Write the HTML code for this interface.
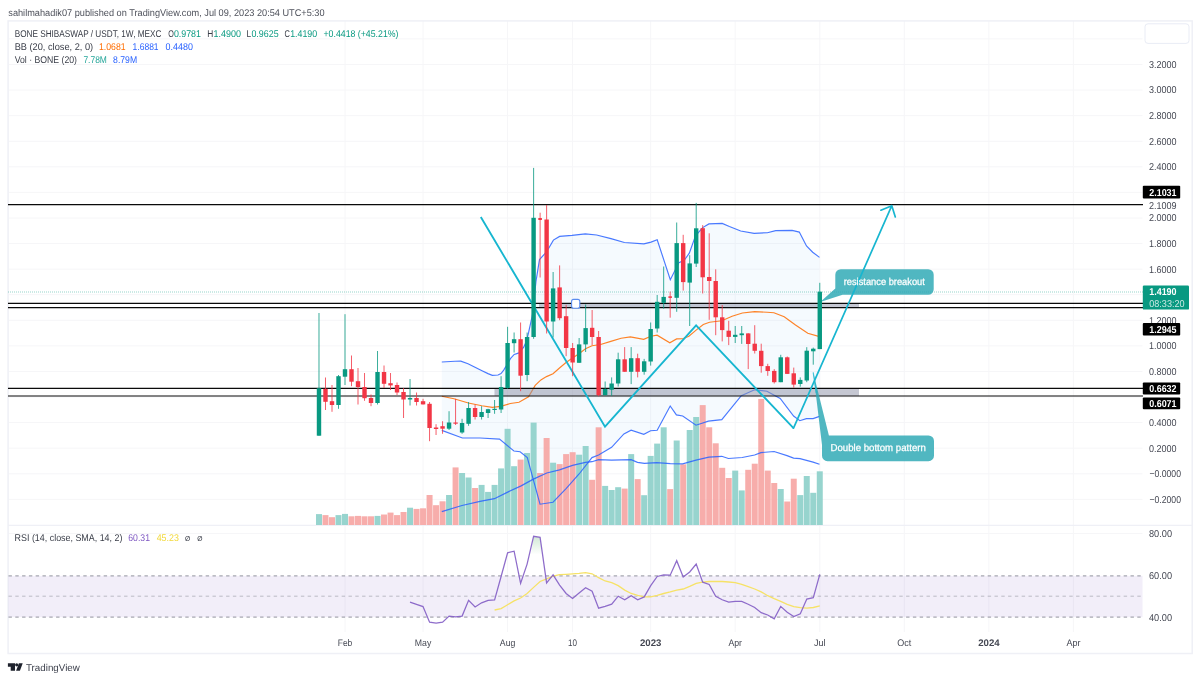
<!DOCTYPE html>
<html lang="en"><head><meta charset="utf-8"><title>BONE SHIBASWAP / USDT chart</title><style>html,body{margin:0;padding:0;background:#fff}body{width:1200px;height:681px;overflow:hidden}svg{display:block}</style></head><body>
<svg width="1200" height="681" viewBox="0 0 1200 681" font-family="'Liberation Sans', sans-serif" text-rendering="geometricPrecision">
<rect width="1200" height="681" fill="#fff"/>
<g stroke="#f6f6f8" stroke-width="1" fill="none"><path d="M8.5 38.9H1142.5"/><path d="M8.5 64.5H1142.5"/><path d="M8.5 90.1H1142.5"/><path d="M8.5 115.7H1142.5"/><path d="M8.5 141.3H1142.5"/><path d="M8.5 166.8H1142.5"/><path d="M8.5 192.4H1142.5"/><path d="M8.5 218.0H1142.5"/><path d="M8.5 243.6H1142.5"/><path d="M8.5 269.2H1142.5"/><path d="M8.5 294.7H1142.5"/><path d="M8.5 320.3H1142.5"/><path d="M8.5 345.9H1142.5"/><path d="M8.5 371.5H1142.5"/><path d="M8.5 397.1H1142.5"/><path d="M8.5 422.6H1142.5"/><path d="M8.5 448.2H1142.5"/><path d="M8.5 473.8H1142.5"/><path d="M8.5 499.4H1142.5"/><path d="M345.0 21V632"/><path d="M423.0 21V632"/><path d="M507.6 21V632"/><path d="M572.6 21V632"/><path d="M650.7 21V632"/><path d="M735.2 21V632"/><path d="M819.8 21V632"/><path d="M904.3 21V632"/><path d="M988.9 21V632"/><path d="M1073.4 21V632"/><path d="M8.5 533.5H1142.5"/></g>
<rect x="8.1" y="20.9" width="1184.1" height="632.6" fill="none" stroke="#eff0f6" stroke-width="1.5"/>
<path d="M8 525.4H1192" stroke="#eff0f6" stroke-width="1.4"/>
<rect x="1145" y="23.8" width="44" height="19.6" rx="3" fill="#fff" stroke="#e9ecf5" stroke-width="1"/>
<polygon points="441.8,362.0 455.0,361.3 460.8,361.1 468.0,363.8 475.0,367.3 481.5,370.5 488.0,373.6 492.3,375.4 498.0,375.0 501.0,373.6 503.7,370.1 507.5,363.9 510.4,358.7 514.2,354.4 519.0,352.9 523.7,347.2 526.5,341.0 528.5,332.9 532.3,315.7 536.0,281.2 539.5,259.6 544.2,254.5 548.7,248.3 553.4,240.1 559.6,236.4 572.0,235.4 585.3,233.9 596.6,235.0 611.0,238.6 624.4,242.5 643.9,243.8 651.0,242.1 657.2,239.7 670.3,279.7 678.9,262.6 684.2,260.4 689.3,253.2 695.5,235.8 702.7,227.6 708.9,223.9 722.2,223.4 729.4,226.5 740.7,231.0 754.1,233.3 767.4,232.7 775.7,230.6 792.1,230.4 799.3,232.1 806.5,246.0 812.7,252.2 819.5,257.4 819.5,416.4 813.1,418.6 806.4,418.6 799.8,420.7 793.6,416.0 780.2,398.5 766.9,391.3 754.6,389.8 741.3,395.6 721.8,419.6 708.4,421.1 696.0,425.2 682.7,416.0 676.4,414.9 670.2,406.0 657.2,430.2 650.6,430.8 643.8,434.3 631.1,430.2 623.9,433.9 611.6,447.3 598.6,455.1 592.0,457.6 579.1,474.0 566.3,488.4 553.0,502.2 540.0,504.2 527.3,457.6 520.1,451.8 513.9,451.0 499.5,439.1 480.0,438.0 462.4,438.0 441.8,430.4" fill="#2196f3" fill-opacity="0.045"/>
<g opacity="0.95"><rect x="315.99" y="514.1" width="6.0" height="10.9" fill="#92d2cc"/><rect x="322.49" y="515.1" width="6.0" height="9.9" fill="#f7a9a7"/><rect x="329.00" y="517.2" width="6.0" height="7.8" fill="#f7a9a7"/><rect x="335.50" y="515.1" width="6.0" height="9.9" fill="#92d2cc"/><rect x="342.00" y="513.9" width="6.0" height="11.1" fill="#92d2cc"/><rect x="348.51" y="516.3" width="6.0" height="8.7" fill="#f7a9a7"/><rect x="355.01" y="515.9" width="6.0" height="9.1" fill="#f7a9a7"/><rect x="361.52" y="516.3" width="6.0" height="8.7" fill="#f7a9a7"/><rect x="368.02" y="516.3" width="6.0" height="8.7" fill="#f7a9a7"/><rect x="374.52" y="515.9" width="6.0" height="9.1" fill="#92d2cc"/><rect x="381.03" y="514.5" width="6.0" height="10.5" fill="#f7a9a7"/><rect x="387.53" y="512.6" width="6.0" height="12.4" fill="#f7a9a7"/><rect x="394.03" y="515.1" width="6.0" height="9.9" fill="#f7a9a7"/><rect x="400.54" y="512.0" width="6.0" height="13.0" fill="#f7a9a7"/><rect x="407.04" y="507.7" width="6.0" height="17.3" fill="#92d2cc"/><rect x="413.54" y="508.9" width="6.0" height="16.1" fill="#f7a9a7"/><rect x="420.05" y="508.3" width="6.0" height="16.7" fill="#f7a9a7"/><rect x="426.55" y="495.0" width="6.0" height="30.0" fill="#f7a9a7"/><rect x="433.05" y="505.2" width="6.0" height="19.8" fill="#f7a9a7"/><rect x="439.56" y="501.3" width="6.0" height="23.7" fill="#f7a9a7"/><rect x="446.06" y="495.0" width="6.0" height="30.0" fill="#92d2cc"/><rect x="452.57" y="467.4" width="6.0" height="57.6" fill="#f7a9a7"/><rect x="459.07" y="473.0" width="6.0" height="52.0" fill="#92d2cc"/><rect x="465.57" y="477.5" width="6.0" height="47.5" fill="#92d2cc"/><rect x="472.08" y="488.0" width="6.0" height="37.0" fill="#f7a9a7"/><rect x="478.58" y="484.9" width="6.0" height="40.1" fill="#92d2cc"/><rect x="485.08" y="491.9" width="6.0" height="33.1" fill="#92d2cc"/><rect x="491.59" y="484.9" width="6.0" height="40.1" fill="#92d2cc"/><rect x="498.09" y="468.4" width="6.0" height="56.6" fill="#92d2cc"/><rect x="504.59" y="428.8" width="6.0" height="96.2" fill="#92d2cc"/><rect x="511.10" y="466.2" width="6.0" height="58.8" fill="#92d2cc"/><rect x="517.60" y="459.6" width="6.0" height="65.4" fill="#f7a9a7"/><rect x="524.11" y="453.0" width="6.0" height="72.0" fill="#92d2cc"/><rect x="530.61" y="422.6" width="6.0" height="102.4" fill="#92d2cc"/><rect x="537.11" y="473.0" width="6.0" height="52.0" fill="#f7a9a7"/><rect x="543.62" y="438.0" width="6.0" height="87.0" fill="#f7a9a7"/><rect x="550.12" y="462.7" width="6.0" height="62.3" fill="#92d2cc"/><rect x="556.62" y="464.1" width="6.0" height="60.9" fill="#f7a9a7"/><rect x="563.13" y="454.1" width="6.0" height="70.9" fill="#f7a9a7"/><rect x="569.63" y="452.2" width="6.0" height="72.8" fill="#f7a9a7"/><rect x="576.13" y="454.7" width="6.0" height="70.3" fill="#92d2cc"/><rect x="582.64" y="446.0" width="6.0" height="79.0" fill="#92d2cc"/><rect x="589.14" y="479.8" width="6.0" height="45.2" fill="#f7a9a7"/><rect x="595.64" y="427.3" width="6.0" height="97.7" fill="#f7a9a7"/><rect x="602.15" y="485.9" width="6.0" height="39.1" fill="#92d2cc"/><rect x="608.65" y="490.0" width="6.0" height="35.0" fill="#92d2cc"/><rect x="615.16" y="487.2" width="6.0" height="37.8" fill="#92d2cc"/><rect x="621.66" y="488.6" width="6.0" height="36.4" fill="#f7a9a7"/><rect x="628.16" y="454.1" width="6.0" height="70.9" fill="#92d2cc"/><rect x="634.67" y="479.1" width="6.0" height="45.9" fill="#f7a9a7"/><rect x="641.17" y="495.2" width="6.0" height="29.8" fill="#92d2cc"/><rect x="647.67" y="455.9" width="6.0" height="69.1" fill="#92d2cc"/><rect x="654.18" y="443.6" width="6.0" height="81.4" fill="#92d2cc"/><rect x="660.68" y="427.3" width="6.0" height="97.7" fill="#92d2cc"/><rect x="667.18" y="489.1" width="6.0" height="35.9" fill="#f7a9a7"/><rect x="673.69" y="440.5" width="6.0" height="84.5" fill="#92d2cc"/><rect x="680.19" y="464.3" width="6.0" height="60.7" fill="#f7a9a7"/><rect x="686.70" y="430.0" width="6.0" height="95.0" fill="#92d2cc"/><rect x="693.20" y="417.0" width="6.0" height="108.0" fill="#92d2cc"/><rect x="699.70" y="405.1" width="6.0" height="119.9" fill="#f7a9a7"/><rect x="706.21" y="427.3" width="6.0" height="97.7" fill="#f7a9a7"/><rect x="712.71" y="443.3" width="6.0" height="81.7" fill="#f7a9a7"/><rect x="719.21" y="467.8" width="6.0" height="57.2" fill="#f7a9a7"/><rect x="725.72" y="478.0" width="6.0" height="47.0" fill="#f7a9a7"/><rect x="732.22" y="470.6" width="6.0" height="54.4" fill="#92d2cc"/><rect x="738.72" y="490.4" width="6.0" height="34.6" fill="#92d2cc"/><rect x="745.23" y="469.8" width="6.0" height="55.2" fill="#f7a9a7"/><rect x="751.73" y="463.7" width="6.0" height="61.3" fill="#f7a9a7"/><rect x="758.23" y="398.9" width="6.0" height="126.1" fill="#f7a9a7"/><rect x="764.74" y="470.6" width="6.0" height="54.4" fill="#f7a9a7"/><rect x="771.24" y="483.0" width="6.0" height="42.0" fill="#f7a9a7"/><rect x="777.75" y="489.0" width="6.0" height="36.0" fill="#92d2cc"/><rect x="784.25" y="501.5" width="6.0" height="23.5" fill="#f7a9a7"/><rect x="790.75" y="478.7" width="6.0" height="46.3" fill="#f7a9a7"/><rect x="797.26" y="495.1" width="6.0" height="29.9" fill="#92d2cc"/><rect x="803.76" y="476.0" width="6.0" height="49.0" fill="#92d2cc"/><rect x="810.26" y="492.8" width="6.0" height="32.2" fill="#92d2cc"/><rect x="816.77" y="471.3" width="6.0" height="53.7" fill="#92d2cc"/></g>
<polyline points="441.8,511.6 462.0,505.5 480.0,501.3 494.4,498.7 507.7,492.1 521.1,485.9 533.4,479.1 546.8,473.0 559.5,469.9 572.5,465.4 585.4,462.3 592.0,461.7 598.6,459.6 611.6,460.2 631.1,459.6 637.5,462.3 644.4,463.3 656.8,462.7 670.2,463.7 682.6,463.9 696.0,460.2 708.9,457.1 721.7,456.3 728.4,458.5 742.2,457.5 754.6,455.0 760.9,452.6 774.1,451.5 787.0,455.6 793.6,458.1 800.0,458.7 813.1,462.2 819.5,464.3" fill="none" stroke="#2962ff" stroke-width="1.2" stroke-opacity="0.85"/>
<polyline points="441.8,362.0 455.0,361.3 460.8,361.1 468.0,363.8 475.0,367.3 481.5,370.5 488.0,373.6 492.3,375.4 498.0,375.0 501.0,373.6 503.7,370.1 507.5,363.9 510.4,358.7 514.2,354.4 519.0,352.9 523.7,347.2 526.5,341.0 528.5,332.9 532.3,315.7 536.0,281.2 539.5,259.6 544.2,254.5 548.7,248.3 553.4,240.1 559.6,236.4 572.0,235.4 585.3,233.9 596.6,235.0 611.0,238.6 624.4,242.5 643.9,243.8 651.0,242.1 657.2,239.7 670.3,279.7 678.9,262.6 684.2,260.4 689.3,253.2 695.5,235.8 702.7,227.6 708.9,223.9 722.2,223.4 729.4,226.5 740.7,231.0 754.1,233.3 767.4,232.7 775.7,230.6 792.1,230.4 799.3,232.1 806.5,246.0 812.7,252.2 819.5,257.4" fill="none" stroke="#2962ff" stroke-width="1.15" stroke-opacity="0.85"/>
<polyline points="441.8,430.4 462.4,438.0 480.0,438.0 499.5,439.1 513.9,451.0 520.1,451.8 527.3,457.6 540.0,504.2 553.0,502.2 566.3,488.4 579.1,474.0 592.0,457.6 598.6,455.1 611.6,447.3 623.9,433.9 631.1,430.2 643.8,434.3 650.6,430.8 657.2,430.2 670.2,406.0 676.4,414.9 682.7,416.0 696.0,425.2 708.4,421.1 721.8,419.6 741.3,395.6 754.6,389.8 766.9,391.3 780.2,398.5 793.6,416.0 799.8,420.7 806.4,418.6 813.1,418.6 819.5,416.4" fill="none" stroke="#2962ff" stroke-width="1.15" stroke-opacity="0.85"/>
<polyline points="441.8,396.2 454.0,398.7 468.4,403.0 481.8,405.8 492.3,407.3 500.8,406.4 510.4,403.5 519.0,402.2 528.5,396.8 535.2,385.4 540.9,379.9 546.5,376.6 553.0,373.8 559.5,368.0 566.0,362.5 572.5,358.0 579.0,353.8 585.5,348.8 592.0,345.7 600.6,344.5 610.8,341.4 621.1,338.3 630.4,336.9 643.7,339.3 650.9,336.2 657.1,335.2 669.8,342.8 676.6,338.9 682.8,338.7 688.9,336.2 696.1,330.1 703.3,324.5 709.5,322.3 721.8,320.8 732.1,316.3 742.4,313.0 754.7,311.6 767.0,312.2 773.9,312.7 784.2,316.8 795.5,325.0 807.8,333.2 819.5,336.6" fill="none" stroke="#ff6d00" stroke-width="1.15" stroke-opacity="0.85"/>
<path d="M8 292H1143" stroke="#089981" stroke-width="1" stroke-dasharray="1 1" stroke-opacity="0.42"/>
<rect x="539" y="303.4" width="320" height="4.2" fill="#8f93a8" fill-opacity="0.52"/>
<rect x="494.5" y="388.4" width="364.5" height="7.4" fill="#8f93a8" fill-opacity="0.52"/>
<path d="M8 204.6H1143" stroke="#0a0a0a" stroke-width="1.15"/>
<path d="M8 303.3H1143" stroke="#0a0a0a" stroke-width="1.15"/>
<path d="M8 307.55H1143" stroke="#0a0a0a" stroke-width="1.15"/>
<path d="M8 388.3H1143" stroke="#0a0a0a" stroke-width="1.15"/>
<path d="M8 396.0H1143" stroke="#0a0a0a" stroke-width="1.15"/>
<polyline points="480.8,217 605,426.7 696.1,325.4 793.5,428.2" fill="none" stroke="#17b6d0" stroke-width="1.85" stroke-linejoin="miter"/>
<g fill="#2aa7b3" fill-opacity="0.82"><path d="M840.8 269.2H928.2a5.5 5.5 0 0 1 5.5 5.5V289.3a5.5 5.5 0 0 1 -5.5 5.5H842.6L820.2 302.1L835.3 288.6V274.7a5.5 5.5 0 0 1 5.5 -5.5Z"/><path d="M828.9 435.5L813.2 372.3L822 445V455.7a5.5 5.5 0 0 0 5.5 5.5H928.5a5.5 5.5 0 0 0 5.5 -5.5V441a5.5 5.5 0 0 0 -5.5 -5.5Z"/></g>
<path d="M813.2 372.3L816.3 393" stroke="#17b6d0" stroke-width="1.2" stroke-opacity="0.75" fill="none"/>
<path d="M793.5 428.2L891.8 205.7M880.9 210.2L891.8 205.7L895.3 217" fill="none" stroke="#17b6d0" stroke-width="1.7" stroke-linecap="round" stroke-linejoin="round"/>
<text x="843.7" y="284.8" font-size="10" fill="#fff" stroke="#fff" stroke-width="0.25" textLength="81.2" lengthAdjust="spacingAndGlyphs">resistance breakout</text>
<text x="830.5" y="450.7" font-size="10" fill="#fff" stroke="#fff" stroke-width="0.25" textLength="95.3" lengthAdjust="spacingAndGlyphs">Double bottom pattern</text>
<path d="M318.99 313.0V435.8" stroke="#089981" stroke-width="1" stroke-opacity="0.8"/><rect x="316.79" y="388.2" width="4.4" height="47.5" fill="#089981"/><path d="M325.49 377.5V410.0" stroke="#f23645" stroke-width="1" stroke-opacity="0.8"/><rect x="323.29" y="388.8" width="4.4" height="13.0" fill="#f23645"/><path d="M332.00 385.0V411.8" stroke="#f23645" stroke-width="1" stroke-opacity="0.8"/><rect x="329.80" y="401.2" width="4.4" height="3.8" fill="#f23645"/><path d="M338.50 375.0V408.8" stroke="#089981" stroke-width="1" stroke-opacity="0.8"/><rect x="336.30" y="376.2" width="4.4" height="28.8" fill="#089981"/><path d="M345.00 314.2V385.0" stroke="#089981" stroke-width="1" stroke-opacity="0.8"/><rect x="342.80" y="369.2" width="4.4" height="7.5" fill="#089981"/><path d="M351.51 355.5V386.2" stroke="#f23645" stroke-width="1" stroke-opacity="0.8"/><rect x="349.31" y="369.2" width="4.4" height="12.5" fill="#f23645"/><path d="M358.01 368.0V404.5" stroke="#f23645" stroke-width="1" stroke-opacity="0.8"/><rect x="355.81" y="381.2" width="4.4" height="5.8" fill="#f23645"/><path d="M364.52 373.0V400.8" stroke="#f23645" stroke-width="1" stroke-opacity="0.8"/><rect x="362.32" y="387.0" width="4.4" height="11.2" fill="#f23645"/><path d="M371.02 394.5V406.2" stroke="#f23645" stroke-width="1" stroke-opacity="0.8"/><rect x="368.82" y="398.0" width="4.4" height="5.0" fill="#f23645"/><path d="M377.52 351.0V404.5" stroke="#089981" stroke-width="1" stroke-opacity="0.8"/><rect x="375.32" y="372.0" width="4.4" height="31.0" fill="#089981"/><path d="M384.03 365.5V388.0" stroke="#f23645" stroke-width="1" stroke-opacity="0.8"/><rect x="381.83" y="372.0" width="4.4" height="11.8" fill="#f23645"/><path d="M390.53 373.0V390.0" stroke="#f23645" stroke-width="1" stroke-opacity="0.8"/><rect x="388.33" y="383.2" width="4.4" height="2.2" fill="#f23645"/><path d="M397.03 382.5V395.0" stroke="#f23645" stroke-width="1" stroke-opacity="0.8"/><rect x="394.83" y="385.0" width="4.4" height="7.5" fill="#f23645"/><path d="M403.54 388.0V418.0" stroke="#f23645" stroke-width="1" stroke-opacity="0.8"/><rect x="401.34" y="392.0" width="4.4" height="7.5" fill="#f23645"/><path d="M410.04 379.0V405.5" stroke="#089981" stroke-width="1" stroke-opacity="0.8"/><rect x="407.84" y="398.0" width="4.4" height="1.5" fill="#089981"/><path d="M416.54 392.5V405.5" stroke="#f23645" stroke-width="1" stroke-opacity="0.8"/><rect x="414.34" y="398.0" width="4.4" height="4.0" fill="#f23645"/><path d="M423.05 398.8V404.5" stroke="#f23645" stroke-width="1" stroke-opacity="0.8"/><rect x="420.85" y="401.2" width="4.4" height="3.2" fill="#f23645"/><path d="M429.55 402.0V441.2" stroke="#f23645" stroke-width="1" stroke-opacity="0.8"/><rect x="427.35" y="403.8" width="4.4" height="24.2" fill="#f23645"/><path d="M436.05 424.2V435.0" stroke="#f23645" stroke-width="1" stroke-opacity="0.8"/><rect x="433.85" y="427.5" width="4.4" height="1.5" fill="#f23645"/><path d="M442.56 421.2V433.8" stroke="#f23645" stroke-width="1" stroke-opacity="0.8"/><rect x="440.36" y="426.2" width="4.4" height="2.5" fill="#f23645"/><path d="M449.06 411.2V430.0" stroke="#089981" stroke-width="1" stroke-opacity="0.8"/><rect x="446.86" y="422.5" width="4.4" height="6.2" fill="#089981"/><path d="M455.57 398.8V425.0" stroke="#f23645" stroke-width="1" stroke-opacity="0.8"/><rect x="453.37" y="422.5" width="4.4" height="1.2" fill="#f23645"/><path d="M462.07 418.8V433.8" stroke="#089981" stroke-width="1" stroke-opacity="0.8"/><rect x="459.87" y="423.0" width="4.4" height="9.5" fill="#089981"/><path d="M468.57 402.0V425.8" stroke="#089981" stroke-width="1" stroke-opacity="0.8"/><rect x="466.37" y="408.0" width="4.4" height="15.8" fill="#089981"/><path d="M475.08 404.5V419.5" stroke="#f23645" stroke-width="1" stroke-opacity="0.8"/><rect x="472.88" y="408.0" width="4.4" height="9.0" fill="#f23645"/><path d="M481.58 406.2V419.5" stroke="#089981" stroke-width="1" stroke-opacity="0.8"/><rect x="479.38" y="412.0" width="4.4" height="5.0" fill="#089981"/><path d="M488.08 408.8V418.0" stroke="#089981" stroke-width="1" stroke-opacity="0.8"/><rect x="485.88" y="409.2" width="4.4" height="3.8" fill="#089981"/><path d="M494.59 400.0V413.8" stroke="#089981" stroke-width="1" stroke-opacity="0.8"/><rect x="492.39" y="408.8" width="4.4" height="1.2" fill="#089981"/><path d="M501.09 376.2V413.0" stroke="#089981" stroke-width="1" stroke-opacity="0.8"/><rect x="498.89" y="387.0" width="4.4" height="22.5" fill="#089981"/><path d="M507.59 326.8V388.8" stroke="#089981" stroke-width="1" stroke-opacity="0.8"/><rect x="505.39" y="343.0" width="4.4" height="45.0" fill="#089981"/><path d="M514.10 332.5V352.5" stroke="#089981" stroke-width="1" stroke-opacity="0.8"/><rect x="511.90" y="339.2" width="4.4" height="4.0" fill="#089981"/><path d="M520.60 322.5V391.2" stroke="#f23645" stroke-width="1" stroke-opacity="0.8"/><rect x="518.40" y="339.2" width="4.4" height="36.5" fill="#f23645"/><path d="M527.11 332.5V381.2" stroke="#089981" stroke-width="1" stroke-opacity="0.8"/><rect x="524.91" y="337.0" width="4.4" height="38.0" fill="#089981"/><path d="M533.61 167.9V338.8" stroke="#089981" stroke-width="1" stroke-opacity="0.8"/><rect x="531.41" y="217.8" width="4.4" height="119.2" fill="#089981"/><path d="M540.11 212.7V277.5" stroke="#f23645" stroke-width="1" stroke-opacity="0.8"/><rect x="538.31" y="218.0" width="3.6" height="2.0" fill="#f23645"/><path d="M546.62 205.0V333.5" stroke="#f23645" stroke-width="1" stroke-opacity="0.8"/><rect x="544.42" y="219.5" width="4.4" height="102.0" fill="#f23645"/><path d="M553.12 272.0V337.5" stroke="#089981" stroke-width="1" stroke-opacity="0.8"/><rect x="550.92" y="288.4" width="4.4" height="33.1" fill="#089981"/><path d="M559.62 265.4V320.2" stroke="#f23645" stroke-width="1" stroke-opacity="0.8"/><rect x="557.42" y="287.4" width="4.4" height="30.8" fill="#f23645"/><path d="M566.13 304.8V356.2" stroke="#f23645" stroke-width="1" stroke-opacity="0.8"/><rect x="563.93" y="316.2" width="4.4" height="31.8" fill="#f23645"/><path d="M572.63 343.0V376.2" stroke="#f23645" stroke-width="1" stroke-opacity="0.8"/><rect x="570.43" y="348.0" width="4.4" height="14.5" fill="#f23645"/><path d="M579.13 338.0V363.0" stroke="#089981" stroke-width="1" stroke-opacity="0.8"/><rect x="576.93" y="344.4" width="4.4" height="18.4" fill="#089981"/><path d="M585.64 304.5V352.0" stroke="#089981" stroke-width="1" stroke-opacity="0.8"/><rect x="583.44" y="328.1" width="4.4" height="16.3" fill="#089981"/><path d="M592.14 310.0V345.0" stroke="#f23645" stroke-width="1" stroke-opacity="0.8"/><rect x="589.94" y="327.8" width="4.4" height="9.2" fill="#f23645"/><path d="M598.64 331.0V396.3" stroke="#f23645" stroke-width="1" stroke-opacity="0.8"/><rect x="596.44" y="337.0" width="4.4" height="58.2" fill="#f23645"/><path d="M605.15 381.5V395.2" stroke="#089981" stroke-width="1" stroke-opacity="0.8"/><rect x="602.95" y="389.0" width="4.4" height="6.2" fill="#089981"/><path d="M611.65 377.4V395.9" stroke="#089981" stroke-width="1" stroke-opacity="0.8"/><rect x="609.45" y="383.5" width="4.4" height="6.2" fill="#089981"/><path d="M618.16 352.7V386.6" stroke="#089981" stroke-width="1" stroke-opacity="0.8"/><rect x="615.96" y="359.3" width="4.4" height="24.2" fill="#089981"/><path d="M624.66 347.1V371.8" stroke="#f23645" stroke-width="1" stroke-opacity="0.8"/><rect x="622.46" y="359.3" width="4.4" height="12.5" fill="#f23645"/><path d="M631.16 347.1V384.1" stroke="#089981" stroke-width="1" stroke-opacity="0.8"/><rect x="628.96" y="358.2" width="4.4" height="13.6" fill="#089981"/><path d="M637.67 353.7V377.4" stroke="#f23645" stroke-width="1" stroke-opacity="0.8"/><rect x="635.47" y="358.2" width="4.4" height="13.6" fill="#f23645"/><path d="M644.17 358.9V374.7" stroke="#089981" stroke-width="1" stroke-opacity="0.8"/><rect x="641.97" y="361.3" width="4.4" height="10.5" fill="#089981"/><path d="M650.67 322.5V365.6" stroke="#089981" stroke-width="1" stroke-opacity="0.8"/><rect x="648.47" y="329.0" width="4.4" height="32.5" fill="#089981"/><path d="M657.18 295.0V332.5" stroke="#089981" stroke-width="1" stroke-opacity="0.8"/><rect x="654.98" y="301.8" width="4.4" height="26.7" fill="#089981"/><path d="M663.68 266.5V308.7" stroke="#089981" stroke-width="1" stroke-opacity="0.8"/><rect x="661.48" y="296.9" width="4.4" height="6.0" fill="#089981"/><path d="M670.18 291.6V317.7" stroke="#f23645" stroke-width="1" stroke-opacity="0.8"/><rect x="668.38" y="296.3" width="3.6" height="1.6" fill="#f23645"/><path d="M676.69 222.5V311.8" stroke="#089981" stroke-width="1" stroke-opacity="0.8"/><rect x="674.49" y="243.1" width="4.4" height="54.7" fill="#089981"/><path d="M683.19 234.8V290.6" stroke="#f23645" stroke-width="1" stroke-opacity="0.8"/><rect x="680.99" y="243.1" width="4.4" height="39.0" fill="#f23645"/><path d="M689.70 255.2V326.0" stroke="#089981" stroke-width="1" stroke-opacity="0.8"/><rect x="687.50" y="263.4" width="4.4" height="19.2" fill="#089981"/><path d="M696.20 202.9V267.0" stroke="#089981" stroke-width="1" stroke-opacity="0.8"/><rect x="694.00" y="228.3" width="4.4" height="35.3" fill="#089981"/><path d="M702.70 225.1V293.5" stroke="#f23645" stroke-width="1" stroke-opacity="0.8"/><rect x="700.50" y="228.2" width="4.4" height="49.1" fill="#f23645"/><path d="M709.21 233.3V319.8" stroke="#f23645" stroke-width="1" stroke-opacity="0.8"/><rect x="707.01" y="277.0" width="4.4" height="4.0" fill="#f23645"/><path d="M715.71 269.3V335.2" stroke="#f23645" stroke-width="1" stroke-opacity="0.8"/><rect x="713.51" y="281.0" width="4.4" height="36.3" fill="#f23645"/><path d="M722.21 305.0V341.4" stroke="#f23645" stroke-width="1" stroke-opacity="0.8"/><rect x="720.01" y="317.3" width="4.4" height="12.8" fill="#f23645"/><path d="M728.72 320.8V345.1" stroke="#f23645" stroke-width="1" stroke-opacity="0.8"/><rect x="726.52" y="330.7" width="4.4" height="6.2" fill="#f23645"/><path d="M735.22 326.0V343.0" stroke="#089981" stroke-width="1" stroke-opacity="0.8"/><rect x="733.02" y="334.8" width="4.4" height="2.1" fill="#089981"/><path d="M741.72 326.0V343.9" stroke="#089981" stroke-width="1" stroke-opacity="0.8"/><rect x="739.52" y="333.4" width="4.4" height="1.8" fill="#089981"/><path d="M748.23 333.2V369.1" stroke="#f23645" stroke-width="1" stroke-opacity="0.8"/><rect x="746.03" y="333.4" width="4.4" height="10.6" fill="#f23645"/><path d="M754.73 325.2V353.5" stroke="#f23645" stroke-width="1" stroke-opacity="0.8"/><rect x="752.53" y="343.7" width="4.4" height="7.1" fill="#f23645"/><path d="M761.23 343.7V372.7" stroke="#f23645" stroke-width="1" stroke-opacity="0.8"/><rect x="759.03" y="350.8" width="4.4" height="15.3" fill="#f23645"/><path d="M767.74 363.8V375.8" stroke="#f23645" stroke-width="1" stroke-opacity="0.8"/><rect x="765.54" y="366.1" width="4.4" height="4.9" fill="#f23645"/><path d="M774.24 369.1V383.5" stroke="#f23645" stroke-width="1" stroke-opacity="0.8"/><rect x="772.04" y="370.9" width="4.4" height="11.3" fill="#f23645"/><path d="M780.75 354.8V382.2" stroke="#089981" stroke-width="1" stroke-opacity="0.8"/><rect x="778.55" y="357.3" width="4.4" height="24.9" fill="#089981"/><path d="M787.25 356.5V373.9" stroke="#f23645" stroke-width="1" stroke-opacity="0.8"/><rect x="785.05" y="357.3" width="4.4" height="16.6" fill="#f23645"/><path d="M793.75 367.6V387.7" stroke="#f23645" stroke-width="1" stroke-opacity="0.8"/><rect x="791.55" y="373.3" width="4.4" height="11.3" fill="#f23645"/><path d="M800.26 377.4V386.7" stroke="#089981" stroke-width="1" stroke-opacity="0.8"/><rect x="798.06" y="379.9" width="4.4" height="4.1" fill="#089981"/><path d="M806.76 347.2V382.2" stroke="#089981" stroke-width="1" stroke-opacity="0.8"/><rect x="804.56" y="350.7" width="4.4" height="29.8" fill="#089981"/><path d="M813.26 347.6V364.7" stroke="#089981" stroke-width="1" stroke-opacity="0.8"/><rect x="811.06" y="348.7" width="4.4" height="2.6" fill="#089981"/><path d="M819.77 282.8V349.1" stroke="#089981" stroke-width="1" stroke-opacity="0.8"/><rect x="817.57" y="291.7" width="4.4" height="57.4" fill="#089981"/>
<rect x="571.6" y="299.4" width="8.2" height="8.8" rx="2" fill="#fff" stroke="#5b8def" stroke-width="1.1"/>
<rect x="8.5" y="575.9" width="1134" height="41.2" fill="#7e57c2" fill-opacity="0.1"/>
<path d="M8.5 575.9H1142.5M8.5 617.1H1142.5" stroke="#787b86" stroke-width="1" stroke-dasharray="3.4 3.4" stroke-opacity="0.8"/>
<path d="M8.5 596.2H1142.5" stroke="#787b86" stroke-width="1" stroke-dasharray="3.4 3.4" stroke-opacity="0.45"/>
<defs><linearGradient id="ob" x1="0" y1="0" x2="0" y2="1"><stop offset="0" stop-color="#5aa86a" stop-opacity="0.27"/><stop offset="1" stop-color="#4caf50" stop-opacity="0"/></linearGradient></defs>
<polygon points="531.1,554.5 533.6,536.3 540.1,537.4 542.6,554.5" fill="url(#ob)"/>
<polyline points="494.6,610.0 501.1,608.6 507.6,604.8 514.1,600.9 520.6,598.0 527.1,593.5 533.6,587.4 540.1,581.5 546.6,578.8 553.1,576.1 559.6,574.7 566.1,574.3 572.6,573.8 579.1,573.4 585.6,572.7 592.1,573.8 598.6,577.7 605.1,581.0 611.7,582.6 618.2,585.6 624.7,590.1 631.2,593.5 637.7,595.3 644.2,596.9 650.7,596.9 657.2,595.3 663.7,593.5 670.2,591.9 676.7,590.1 683.2,589.0 689.7,586.3 696.2,583.3 702.7,582.2 709.2,581.5 715.7,581.3 722.2,581.5 728.7,582.0 735.2,582.6 741.7,584.4 748.2,586.7 754.7,589.0 761.2,591.9 767.7,595.7 774.2,598.7 780.7,601.4 787.2,604.3 793.8,606.6 800.3,607.7 806.8,608.2 813.3,607.5 819.8,605.9" fill="none" stroke="#f6e267" stroke-width="1.3"/>
<polyline points="410.0,602.1 416.5,604.3 423.0,606.6 429.6,622.2 436.1,623.1 442.6,622.2 449.1,616.1 455.6,616.8 462.1,616.1 468.6,600.3 475.1,607.0 481.6,602.8 488.1,600.3 494.6,599.8 501.1,576.5 507.6,552.8 514.1,551.2 520.6,583.3 527.1,564.1 533.6,536.3 540.1,537.4 546.6,582.9 553.1,574.9 559.6,585.1 566.1,593.5 572.6,598.5 579.1,593.0 585.6,587.8 592.1,591.2 598.6,608.2 605.1,606.4 611.7,604.1 618.2,596.2 624.7,599.8 631.2,595.7 637.7,599.8 644.2,596.9 650.7,585.6 657.2,576.5 663.7,574.9 670.2,575.2 676.7,560.7 683.2,577.0 689.7,572.0 696.2,564.1 702.7,582.2 709.2,584.4 715.7,596.2 722.2,599.8 728.7,602.1 735.2,601.4 741.7,601.4 748.2,604.3 754.7,607.5 761.2,612.7 767.7,615.0 774.2,618.8 780.7,606.4 787.2,612.3 793.8,616.5 800.3,613.8 806.8,599.1 813.3,597.6 819.8,574.3" fill="none" stroke="#8460c6" stroke-width="1.25" stroke-opacity="0.92"/>
<g font-size="10" fill="#454853"><text x="1149" y="67.8" textLength="27.6" lengthAdjust="spacingAndGlyphs">3.2000</text><text x="1149" y="93.4" textLength="27.6" lengthAdjust="spacingAndGlyphs">3.0000</text><text x="1149" y="119.0" textLength="27.6" lengthAdjust="spacingAndGlyphs">2.8000</text><text x="1149" y="144.6" textLength="27.6" lengthAdjust="spacingAndGlyphs">2.6000</text><text x="1149" y="170.1" textLength="27.6" lengthAdjust="spacingAndGlyphs">2.4000</text><text x="1149" y="221.3" textLength="27.6" lengthAdjust="spacingAndGlyphs">2.0000</text><text x="1149" y="246.9" textLength="27.6" lengthAdjust="spacingAndGlyphs">1.8000</text><text x="1149" y="272.5" textLength="27.6" lengthAdjust="spacingAndGlyphs">1.6000</text><text x="1149" y="323.6" textLength="27.6" lengthAdjust="spacingAndGlyphs">1.2000</text><text x="1149" y="349.2" textLength="27.6" lengthAdjust="spacingAndGlyphs">1.0000</text><text x="1149" y="374.8" textLength="27.6" lengthAdjust="spacingAndGlyphs">0.8000</text><text x="1149" y="425.9" textLength="27.6" lengthAdjust="spacingAndGlyphs">0.4000</text><text x="1149" y="451.5" textLength="27.6" lengthAdjust="spacingAndGlyphs">0.2000</text><text x="1149" y="208.7" textLength="27.6" lengthAdjust="spacingAndGlyphs">2.1009</text><text x="1149.4" y="477.1" textLength="31.6" lengthAdjust="spacingAndGlyphs">−0.0000</text><text x="1149.4" y="502.7" textLength="31.6" lengthAdjust="spacingAndGlyphs">−0.2000</text><text x="1149" y="537.0" textLength="23" lengthAdjust="spacingAndGlyphs">80.00</text><text x="1149" y="579.4" textLength="23" lengthAdjust="spacingAndGlyphs">60.00</text><text x="1149" y="620.6" textLength="23" lengthAdjust="spacingAndGlyphs">40.00</text></g>
<rect x="1142.8" y="185.8" width="37.4" height="12.8" rx="1" fill="#000"/>
<text x="1149.2" y="195.7" font-size="10" font-weight="bold" fill="#fff" textLength="27.4" lengthAdjust="spacingAndGlyphs">2.1031</text>
<rect x="1142.8" y="323" width="37.4" height="12.5" rx="1" fill="#000"/>
<text x="1149.2" y="332.8" font-size="10" font-weight="bold" fill="#fff" textLength="27.4" lengthAdjust="spacingAndGlyphs">1.2945</text>
<rect x="1142.8" y="382.4" width="37.4" height="12.2" rx="1" fill="#000"/>
<text x="1149.2" y="392.0" font-size="10" font-weight="bold" fill="#fff" textLength="27.4" lengthAdjust="spacingAndGlyphs">0.6632</text>
<rect x="1142.8" y="397.4" width="37.4" height="11.8" rx="1" fill="#000"/>
<text x="1149.2" y="406.8" font-size="10" font-weight="bold" fill="#fff" textLength="27.4" lengthAdjust="spacingAndGlyphs">0.6071</text>
<rect x="1142.8" y="285.6" width="46.2" height="24" rx="1.2" fill="#089981"/>
<text x="1149.2" y="295.1" font-size="10" font-weight="bold" fill="#fff" textLength="27.4" lengthAdjust="spacingAndGlyphs">1.4190</text>
<text x="1149.2" y="306.8" font-size="10" fill="#fff" fill-opacity="0.78" textLength="35.4" lengthAdjust="spacingAndGlyphs">08:33:20</text>
<g font-size="9.5" fill="#454853"><text x="345.0" y="646.2" text-anchor="middle" textLength="14.5" lengthAdjust="spacingAndGlyphs">Feb</text><text x="423.0" y="646.2" text-anchor="middle" textLength="16.5" lengthAdjust="spacingAndGlyphs">May</text><text x="507.6" y="646.2" text-anchor="middle" textLength="15.5" lengthAdjust="spacingAndGlyphs">Aug</text><text x="572.6" y="646.2" text-anchor="middle" textLength="9" lengthAdjust="spacingAndGlyphs">10</text><text x="650.7" y="646.2" font-weight="bold" text-anchor="middle" textLength="21.5" lengthAdjust="spacingAndGlyphs">2023</text><text x="735.2" y="646.2" text-anchor="middle" textLength="13.6" lengthAdjust="spacingAndGlyphs">Apr</text><text x="819.8" y="646.2" text-anchor="middle" textLength="11.6" lengthAdjust="spacingAndGlyphs">Jul</text><text x="904.3" y="646.2" text-anchor="middle" textLength="14" lengthAdjust="spacingAndGlyphs">Oct</text><text x="988.9" y="646.2" font-weight="bold" text-anchor="middle" textLength="21.5" lengthAdjust="spacingAndGlyphs">2024</text><text x="1073.4" y="646.2" text-anchor="middle" textLength="14" lengthAdjust="spacingAndGlyphs">Apr</text></g>
<g font-size="9.8">
<text x="8.3" y="15.6" fill="#4d505a" textLength="316.3" lengthAdjust="spacingAndGlyphs">sahilmahadik07 published on TradingView.com, Jul 09, 2023 20:54 UTC+5:30</text>
<text x="14.7" y="37.0" fill="#383c47" textLength="146.7" lengthAdjust="spacingAndGlyphs">BONE SHIBASWAP / USDT, 1W, MEXC</text>
<text x="168.3" y="37.0" fill="#383c47" textLength="5.6" lengthAdjust="spacingAndGlyphs">O</text>
<text x="173.9" y="37.0" fill="#089981" textLength="27" lengthAdjust="spacingAndGlyphs">0.9781</text>
<text x="207.3" y="37.0" fill="#383c47" textLength="6" lengthAdjust="spacingAndGlyphs">H</text>
<text x="213.6" y="37.0" fill="#089981" textLength="27.4" lengthAdjust="spacingAndGlyphs">1.4900</text>
<text x="246.5" y="37.0" fill="#383c47" textLength="4.6" lengthAdjust="spacingAndGlyphs">L</text>
<text x="251.4" y="37.0" fill="#089981" textLength="27.2" lengthAdjust="spacingAndGlyphs">0.9625</text>
<text x="284.5" y="37.0" fill="#383c47" textLength="5.4" lengthAdjust="spacingAndGlyphs">C</text>
<text x="290.2" y="37.0" fill="#089981" textLength="27" lengthAdjust="spacingAndGlyphs">1.4190</text>
<text x="323.5" y="37.0" fill="#089981" textLength="75" lengthAdjust="spacingAndGlyphs">+0.4418 (+45.21%)</text>
<text x="14.7" y="50.0" fill="#383c47" textLength="78.4" lengthAdjust="spacingAndGlyphs">BB (20, close, 2, 0)</text>
<text x="99" y="50.0" fill="#ff6d00" textLength="26.6" lengthAdjust="spacingAndGlyphs">1.0681</text>
<text x="132.6" y="50.0" fill="#2962ff" textLength="26" lengthAdjust="spacingAndGlyphs">1.6881</text>
<text x="165.6" y="50.0" fill="#2962ff" textLength="27.3" lengthAdjust="spacingAndGlyphs">0.4480</text>
<text x="14.7" y="63.1" fill="#383c47" textLength="62.3" lengthAdjust="spacingAndGlyphs">Vol · BONE (20)</text>
<text x="83.4" y="63.1" fill="#26a69a" textLength="23.5" lengthAdjust="spacingAndGlyphs">7.78M</text>
<text x="113.1" y="63.1" fill="#2962ff" textLength="24" lengthAdjust="spacingAndGlyphs">8.79M</text>
<text x="14.6" y="541" fill="#383c47" textLength="107.8" lengthAdjust="spacingAndGlyphs">RSI (14, close, SMA, 14, 2)</text>
<text x="128.3" y="541" fill="#7e57c2" textLength="21.7" lengthAdjust="spacingAndGlyphs">60.31</text>
<text x="156.7" y="541" fill="#f2d93b" textLength="22.2" lengthAdjust="spacingAndGlyphs">45.23</text>
<text x="185" y="541.2" fill="#383c47" textLength="5.2" lengthAdjust="spacingAndGlyphs" font-family="'DejaVu Sans', sans-serif" font-size="7" font-weight="bold">∅</text>
<text x="197.2" y="541.2" fill="#383c47" textLength="5.2" lengthAdjust="spacingAndGlyphs" font-family="'DejaVu Sans', sans-serif" font-size="7" font-weight="bold">∅</text>
</g>
<g fill="#1e222d"><path d="M7.9 663.2h7.1v7.6h-4.3v-4h-2.8z"/><circle cx="16.7" cy="664.8" r="1.6"/><path d="M18.9 663.2h3.8l-2.8 7.6h-3.8z"/></g>
<text x="26" y="670.9" font-size="9.9" fill="#3a3e4a" textLength="53.8" lengthAdjust="spacingAndGlyphs">TradingView</text>
</svg>
</body></html>
